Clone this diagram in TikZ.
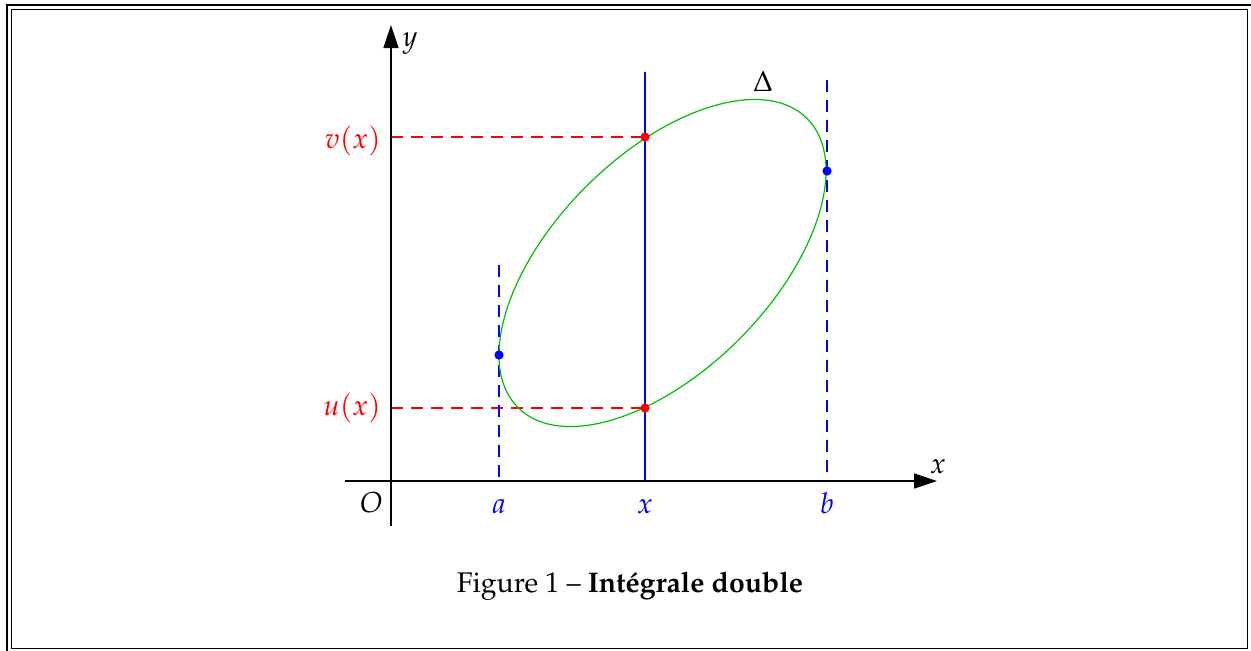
\documentclass[tikz,border=0pt]{standalone}
\usepackage[T1]{fontenc}
\usepackage{mathpazo}
\usetikzlibrary{arrows.meta}
\definecolor{ellgreen}{RGB}{0,190,0}
\definecolor{myblue}{RGB}{0,0,255}
\definecolor{myred}{RGB}{255,0,0}
\begin{document}
\begin{tikzpicture}[x=0.5pt,y=-0.5pt,
  axis/.style={line width=0.8pt, -{Triangle[length=11.5pt,width=7.5pt]}},
  reddash/.style={myred, line width=0.6pt, dash pattern=on 6pt off 4pt},
  bluedash/.style={myblue, line width=0.6pt, dash pattern=on 6pt off 4pt},
  blueline/.style={myblue, line width=0.6pt},
  dotred/.style={circle, fill=myred, inner sep=0pt, minimum size=4.6pt},
  dotblue/.style={circle, fill=myblue, inner sep=0pt, minimum size=4.6pt},
  lbl/.style={inner sep=0pt, font=\fontsize{14.4}{17}\selectfont},
]
\useasboundingbox (0,0) rectangle (1251,650);
\draw[line width=1pt] (6.5,4.5) rectangle (1253,652);
\draw[line width=0.5pt] (11.5,9.5) rectangle (1247.5,648);
% coordinates
\coordinate (xs) at (345,481); \coordinate (xe) at (937,481);
\coordinate (ys) at (391,526); \coordinate (ye) at (391,25);
\coordinate (vy) at (391,137); \coordinate (uy) at (391,408);
\coordinate (pv) at (645,137); \coordinate (pu) at (645,408);
\coordinate (pa) at (499,355); \coordinate (pb) at (827,171);
\coordinate (xtop) at (645,72); \coordinate (xbot) at (645,481);
\coordinate (atop) at (499,265); \coordinate (abot) at (499,481);
\coordinate (btop) at (827,80); \coordinate (bbot) at (827,481);
\coordinate (c) at (662.5,263);
% lines
\draw[reddash] (vy) -- (pv);
\draw[reddash] (uy) -- (pu);
\draw[bluedash] (atop) -- (abot);
\draw[bluedash] (btop) -- (bbot);
\draw[blueline] (xtop) -- (xbot);
\draw[ellgreen, line width=0.6pt, rotate around={45:(c)}] (c) ellipse [x radius=102.2pt, y radius=54.05pt];
\draw[axis] (xs) -- (xe);
\draw[axis] (ys) -- (ye);
% dots
\node[dotred] (dv) at (pv) {};
\node[dotred] (du) at (pu) {};
\node[dotblue] (da) at (pa) {};
\node[dotblue] (db) at (pb) {};
% labels
\node[lbl, anchor=base] (lx) at (938,473) {$x$};
\node[lbl, anchor=base] (ly) at (410,46) {$y$};
\node[lbl, anchor=base] (lO) at (371.5,512) {$O$};
\node[lbl, anchor=base, text=myblue] (la) at (499,513) {$a$};
\node[lbl, anchor=base, text=myblue] (lxx) at (645,513) {$x$};
\node[lbl, anchor=base, text=myblue] (lb) at (827,513) {$b$};
\node[lbl, anchor=base] (lD) at (763,91) {$\Delta$};
\node[lbl, anchor=base east, text=myred] (lv) at (381,148) {$v(x)$};
\node[lbl, anchor=base east, text=myred] (lu) at (381,415) {$u(x)$};
\node[inner sep=0pt, anchor=base, font=\fontsize{14.2}{17}\selectfont] (cap) at (630,592) {Figure 1 -- \textbf{Int\'egrale double}};
\end{tikzpicture}
\end{document}
